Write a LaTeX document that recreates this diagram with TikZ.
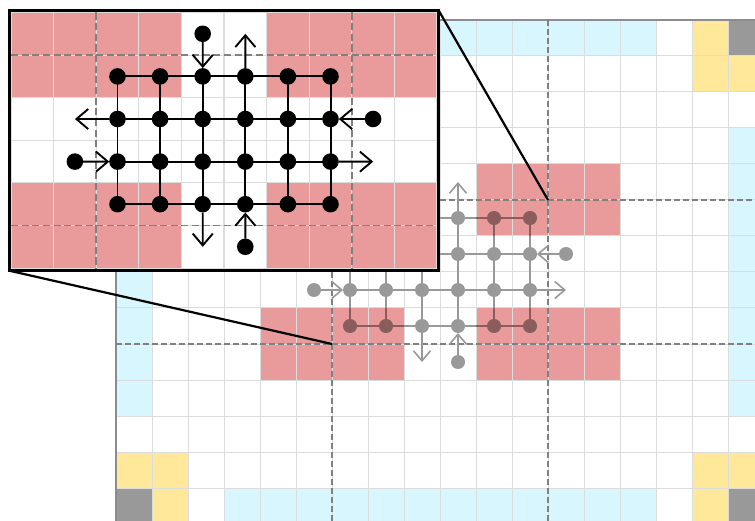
\documentclass[tikz,border=0pt]{standalone}
\usetikzlibrary{arrows.meta}
\definecolor{cellred}{HTML}{E99A9A}
\definecolor{cellcyan}{HTML}{D7F6FD}
\definecolor{cellyel}{HTML}{FFE899}
\definecolor{cellgray}{HTML}{999999}
\definecolor{gridc}{HTML}{DCDCDC}
\definecolor{borderc}{HTML}{8C8C8C}
\definecolor{dashc}{HTML}{808080}
\definecolor{graphgray}{HTML}{999999}
\definecolor{graphred}{HTML}{8C5C5C}
\tikzset{
  dotnode/.style={circle, inner sep=0pt, outer sep=0pt, minimum size=14pt},
}
\newcommand{\cellat}[3]{\fill[#1] ({116+36*#2},{20+36*#3}) rectangle ({152+36*#2},{56+36*#3});}
\newcommand{\drawcells}[1]{%
  \foreach \xa/\ya in {0/0,17/0,0/13,17/13} {\cellat{cellgray}{\xa}{\ya}}
  \foreach \xa/\ya in {1/0,0/1,1/1,16/0,16/1,17/1,0/12,1/12,1/13,16/12,17/12,16/13} {\cellat{cellyel}{\xa}{\ya}}
  \foreach \ka in {3,...,14} {\cellat{cellcyan}{\ka}{0}\cellat{cellcyan}{\ka}{13}}
  \foreach \ka in {3,...,10} {\cellat{cellcyan}{0}{\ka}\cellat{cellcyan}{17}{\ka}}
  \foreach \xa in {4,5,6,7,10,11,12,13} {\foreach \ya in {4,5,8,9} {\cellat{cellred}{\xa}{\ya}}}
  \foreach \ka in {0,...,18} {\draw[gridc, line width=1pt*#1] ({116+36*\ka},20) -- ({116+36*\ka},524);}
  \foreach \ka in {0,...,14} {\draw[gridc, line width=1pt*#1] (116,{20+36*\ka}) -- (764,{20+36*\ka});}
  \draw[borderc, line width=1.6pt*#1] (116,20) rectangle (764,524);
  \pgfmathsetmacro\dshon{6*#1}\pgfmathsetmacro\dshoff{3*#1}
  \draw[dashc, line width=1.2pt*#1, dash pattern=on \dshon pt off \dshoff pt]
    (332,20) -- (332,524) (548,20) -- (548,524) (116,200) -- (764,200) (116,344) -- (764,344);
}
\newcommand{\drawgraph}[3]{%
  \foreach \xa in {0,...,5} {\foreach \ya in {0,...,3} {\node[dotnode, fill=#2] (#1-\xa-\ya) at ({350+36*\xa},{218+36*\ya}) {};}}
  \node[dotnode, fill=#2] (#1-inl) at (314,290) {};
  \node[dotnode, fill=#2] (#1-inr) at (566,254) {};
  \node[dotnode, fill=#2] (#1-int) at (422,182) {};
  \node[dotnode, fill=#2] (#1-inb) at (458,362) {};
  \coordinate (#1-outl) at (314,254);
  \coordinate (#1-outr) at (566,290);
  \coordinate (#1-outt) at (458,182);
  \coordinate (#1-outb) at (422,362);
  \begin{scope}[color=#2, line width=1.6pt*#3, -{Straight Barb[length=10pt,width=17pt,scale=#3]}]
    \foreach \ya in {0,...,3} {\draw[-] (#1-0-\ya.center) -- (#1-5-\ya.center);}
    \foreach \xa in {0,...,5} {\draw[-] (#1-\xa-0.center) -- (#1-\xa-3.center);}
    \draw (#1-0-1) -- (#1-outl);
    \draw (#1-inr) -- (#1-5-1);
    \draw (#1-inl) -- (#1-0-2);
    \draw (#1-5-2) -- (#1-outr);
    \draw (#1-int) -- (#1-2-0);
    \draw (#1-2-3) -- (#1-outb);
    \draw (#1-3-0) -- (#1-outt);
    \draw (#1-inb) -- (#1-3-3);
  \end{scope}
}
\begin{document}
\begin{tikzpicture}[x=1pt, y=-1pt]
  \useasboundingbox (0,0) rectangle (755,521);
  \clip (0,0) rectangle (755,521);
  \fill[white] (0,0) rectangle (755,521);
  \drawcells{1}
  \drawgraph{m}{graphgray}{1}
  \begin{scope}
    \clip (260,164) rectangle (404,236) (476,164) rectangle (620,236)
          (260,308) rectangle (404,380) (476,308) rectangle (620,380);
    \drawgraph{r}{graphred}{1}
  \end{scope}
  \coordinate (lensTR) at (548,200);
  \coordinate (lensBL) at (332,344);
  \fill[white] (9.3,10.5) rectangle (438.7,270.7);
  \begin{scope}
    \clip (11,12.5) rectangle (437,268.5);
    \begin{scope}[shift={(-296.658,-181.561)}, scale=1.1833, transform shape]
      \drawcells{1.1833}
      \drawgraph{z}{black}{1.1833}
    \end{scope}
  \end{scope}
  \node[draw, line width=2.6pt, inner sep=0pt, outer sep=0pt, minimum width=429.4pt,
        minimum height=260.2pt, anchor=north west] (inset) at (9.3,10.5) {};
  \draw[line width=2.2pt] (inset.north east) -- (lensTR);
  \draw[line width=2.2pt] (inset.south west) -- (lensBL);
\end{tikzpicture}
\end{document}
